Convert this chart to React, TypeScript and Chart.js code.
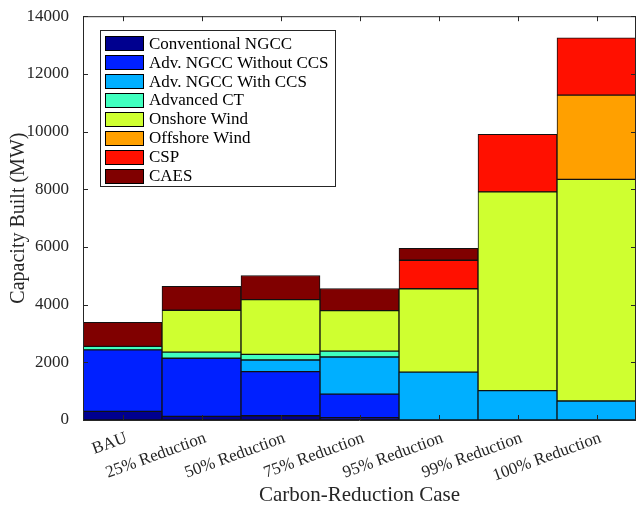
import React, { useEffect, useRef } from "react";
import { Chart, registerables } from "chart.js";

Chart.register(...registerables);

const categories = [
  "BAU",
  "25% Reduction",
  "50% Reduction",
  "75% Reduction",
  "95% Reduction",
  "99% Reduction",
  "100% Reduction",
];

const conventionalNGCC = [300, 125, 148, 80, 0, 0, 0];
const advNGCCWithoutCCS = [2134, 2015, 1528, 817, 0, 0, 0];
const advNGCCWithCCS = [0, 0, 403, 1286, 1660, 1020, 660];
const advancedCT = [118, 215, 197, 207, 0, 0, 0];
const onshoreWind = [0, 1450, 1896, 1403, 2892, 6887, 7685];
const offshoreWind = [0, 0, 0, 0, 0, 0, 2917];
const csp = [0, 0, 0, 0, 986, 2000, 1990];
const caes = [838, 826, 838, 767, 414, 0, 0];

const seriesNames = [
  "Conventional NGCC",
  "Adv. NGCC Without CCS",
  "Adv. NGCC With CCS",
  "Advanced CT",
  "Onshore Wind",
  "Offshore Wind",
  "CSP",
  "CAES",
];
const seriesColors = [
  "#00008F",
  "#0020FF",
  "#00AFFF",
  "#40FFBF",
  "#CFFF30",
  "#FFA000",
  "#FF1000",
  "#800000",
];
const seriesValues = [
  conventionalNGCC,
  advNGCCWithoutCCS,
  advNGCCWithCCS,
  advancedCT,
  onshoreWind,
  offshoreWind,
  csp,
  caes,
];

const yMin = 0;
const yMax = 14000;
const yStep = 2000;

const FONT = "'Liberation Serif', 'Times New Roman', serif";
const AXIS = "#262626";

const boxPlugin = {
  id: "matlabBox",
  afterDatasetsDraw(chart: any) {
    const { ctx, chartArea } = chart;
    const { left, right, top, bottom } = chartArea;
    const yScale = chart.scales.y;
    const xScale = chart.scales.x;
    const tl = 5;
    ctx.save();
    ctx.strokeStyle = AXIS;
    ctx.lineWidth = 1;
    ctx.beginPath();
    ctx.moveTo(left + 0.5, top + 0.5);
    ctx.lineTo(left + 0.5, bottom + 0.5);
    ctx.lineTo(right - 0.5, bottom + 0.5);
    ctx.lineTo(right - 0.5, top + 0.5);
    ctx.lineTo(left + 0.5, top + 0.5);
    for (let v = yMin; v <= yMax; v += yStep) {
      const py = Math.round(yScale.getPixelForValue(v)) + 0.5;
      ctx.moveTo(left, py);
      ctx.lineTo(left + tl, py);
      ctx.moveTo(right, py);
      ctx.lineTo(right - tl, py);
    }
    for (let i = 0; i < categories.length; i++) {
      const px = Math.round(xScale.getPixelForValue(i)) + 0.5;
      ctx.moveTo(px, bottom);
      ctx.lineTo(px, bottom - tl);
      ctx.moveTo(px, top);
      ctx.lineTo(px, top + tl);
    }
    ctx.stroke();
    ctx.restore();
  },
  afterDraw(chart: any) {
    const { ctx } = chart;
    const bx = 100.5;
    const by = 30.5;
    const bw = 235;
    const bh = 156;
    ctx.save();
    ctx.fillStyle = "#ffffff";
    ctx.fillRect(bx, by, bw, bh);
    ctx.strokeStyle = AXIS;
    ctx.lineWidth = 1;
    ctx.strokeRect(bx, by, bw, bh);
    const rowH = 18.9;
    ctx.font = `17px ${FONT}`;
    ctx.textBaseline = "middle";
    ctx.textAlign = "left";
    for (let i = 0; i < seriesNames.length; i++) {
      const cy = 43.3 + i * rowH;
      ctx.fillStyle = seriesColors[i];
      ctx.fillRect(105, Math.round(cy - 7), 39, 15);
      ctx.strokeStyle = "#000";
      ctx.strokeRect(105.5, Math.round(cy - 7) + 0.5, 38, 14);
      ctx.fillStyle = "#000";
      ctx.fillText(seriesNames[i], 149, cy + 1);
    }
    ctx.restore();
  },
};

export default function App() {
  const ref = useRef<HTMLCanvasElement | null>(null);

  useEffect(() => {
    document.body.style.margin = "0";
    const canvas = ref.current;
    if (!canvas) return;
    const chart = new Chart(canvas, {
      type: "bar",
      data: {
        labels: categories,
        datasets: seriesNames.map((name, i) => ({
          label: name,
          data: seriesValues[i],
          backgroundColor: seriesColors[i],
          borderColor: "#111111",
          borderWidth: 1,
          borderSkipped: false,
          barPercentage: 1,
          categoryPercentage: 1,
        })),
      },
      options: {
        responsive: false,
        animation: false,
        layout: { padding: { left: 0, right: 0, top: 15, bottom: 0 } },
        plugins: {
          legend: { display: false },
          tooltip: { enabled: false },
        },
        scales: {
          x: {
            stacked: true,
            grid: { display: false },
            border: { display: false },
            ticks: {
              autoSkip: false,
              minRotation: 20,
              maxRotation: 20,
              padding: 0,
              labelOffset: 4,
              color: AXIS,
              font: { family: FONT, size: 17 },
            },
            title: {
              display: true,
              text: "Carbon-Reduction Case",
              color: AXIS,
              font: { family: FONT, size: 21, lineHeight: 1 },
              padding: { top: 0, bottom: 0.5 },
            },
            afterFit: (s: any) => {
              s.height = 86;
            },
          },
          y: {
            stacked: true,
            min: yMin,
            max: yMax,
            grid: { display: false },
            border: { display: false },
            ticks: {
              stepSize: yStep,
              padding: 6,
              color: AXIS,
              font: { family: FONT, size: 17 },
              callback: (v: any) => String(v),
            },
            title: {
              display: true,
              text: "Capacity Built (MW)",
              color: AXIS,
              font: { family: FONT, size: 20 },
              padding: { top: 7, bottom: 0 },
            },
            afterFit: (s: any) => {
              s.width = 83;
            },
          },
        },
      },
      plugins: [boxPlugin],
    });
    return () => chart.destroy();
  }, []);

  return (
    <canvas
      ref={ref}
      width={636}
      height={506}
      style={{ display: "block", width: 636, height: 506 }}
    />
  );
}
